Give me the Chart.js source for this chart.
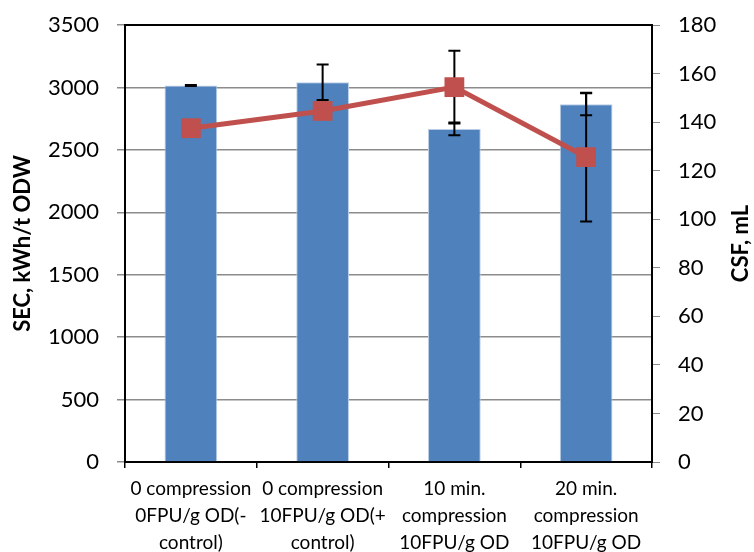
<!DOCTYPE html>
<html>
<head>
<meta charset="utf-8">
<script src="https://cdn.jsdelivr.net/npm/chart.js@4.4.1/dist/chart.umd.min.js"></script>
<style>
  body { margin: 0; background: #fff; }
  #wrap { width: 754px; height: 552px; }
</style>
</head>
<body>
<div id="wrap"><canvas id="mychart" width="754" height="552"></canvas></div>
<script>
// categories (multi-line x labels)
const categories = [
    ['0 compression', '0FPU/g OD(-', 'control)'],
    ['0 compression', '10FPU/g OD(+', 'control)'],
    ['10 min.', 'compression', '10FPU/g OD'],
    ['20 min.', 'compression', '10FPU/g OD']
];
// SEC bars (left axis) and their error
const secValues = [3015, 3042, 2668, 2866];
const secErrors = [4, 142, 52, 88];
// CSF line (right axis) and its error
const csfValues = [137.5, 144.6, 154.4, 125.6];
const csfErrors = [2, 2, 15, 26.5];

const secTicks = [0, 500, 1000, 1500, 2000, 2500, 3000, 3500];
const csfTicks = [0, 20, 40, 60, 80, 100, 120, 140, 160, 180];

const tickFont = { family: 'Lato', size: 22 };
const titleFont = { family: 'Lato', size: 22, weight: 'bold' };

// whiskers for both series, drawn right after the bars so the line sits on top
const errorBars = {
    id: 'errorBars',
    afterDatasetDraw(chart, args) {
        if (args.index !== 0) return;
        const ctx = chart.ctx;
        const sets = [
            { meta: chart.getDatasetMeta(0), scale: chart.scales.y, vals: secValues, errs: secErrors },
            { meta: chart.getDatasetMeta(1), scale: chart.scales.y1, vals: csfValues, errs: csfErrors }
        ];
        ctx.save();
        ctx.strokeStyle = '#000';
        ctx.lineWidth = 2;
        sets.forEach(s => {
            s.meta.data.forEach((el, i) => {
                const x = el.x;
                const yTop = s.scale.getPixelForValue(s.vals[i] + s.errs[i]);
                const yBot = s.scale.getPixelForValue(s.vals[i] - s.errs[i]);
                ctx.beginPath();
                ctx.moveTo(x, yTop); ctx.lineTo(x, yBot);
                ctx.moveTo(x - 6, yTop); ctx.lineTo(x + 6, yTop);
                ctx.moveTo(x - 6, yBot); ctx.lineTo(x + 6, yBot);
                ctx.stroke();
            });
        });
        ctx.restore();
    }
};

// plot area frame + right axis title (reads bottom to top like the left one)
const frame = {
    id: 'frame',
    beforeDatasetsDraw(chart) {
        const a = chart.chartArea, ctx = chart.ctx;
        ctx.save();
        ctx.strokeStyle = '#000';
        ctx.lineWidth = 2;
        ctx.strokeRect(a.left, a.top, a.right - a.left, a.bottom - a.top);
        ctx.restore();
    },
    afterDraw(chart) {
        const a = chart.chartArea, ctx = chart.ctx;
        ctx.save();
        ctx.translate(741, (a.top + a.bottom) / 2);
        ctx.rotate(-Math.PI / 2);
        ctx.font = 'bold 22px Lato';
        ctx.fillStyle = '#000';
        ctx.textAlign = 'center';
        ctx.textBaseline = 'middle';
        ctx.fillText('CSF, mL', 0, 0);
        ctx.restore();
    }
};

// fixed space above the plot, whatever the tick padding asks for
function fitY(width) {
    return scale => {
        scale.width = width;
        scale.paddingTop = 25;
        scale.paddingBottom = 0;
    };
}

const canvas = document.getElementById('mychart');

const grafico = new Chart(canvas, {
    data: {
        labels: categories,
        datasets: [
            {
                type: 'bar',
                label: 'SEC',
                data: secValues,
                yAxisID: 'y',
                backgroundColor: '#4F81BD',
                borderColor: '#B9CDE5',
                borderWidth: 1,
                barPercentage: 0.4,
                categoryPercentage: 1,
                order: 2
            },
            {
                type: 'line',
                label: 'CSF',
                data: csfValues,
                yAxisID: 'y1',
                borderColor: '#C0504D',
                backgroundColor: '#C0504D',
                borderWidth: 5,
                pointStyle: 'rect',
                pointRadius: 14,
                pointBorderWidth: 0,
                order: 1
            }
        ]
    },
    options: {
        responsive: false,
        animation: false,
        layout: { padding: 0 },
        plugins: {
            legend: { display: false },
            tooltip: { enabled: false }
        },
        scales: {
            x: {
                offset: true,
                grid: { display: true, drawOnChartArea: false, offset: true, tickLength: 6, color: '#000', lineWidth: 1.5 },
                border: { display: true, color: '#000', width: 2 },
                ticks: { color: '#000', font: { family: 'Lato', size: 19, lineHeight: 1.42 }, maxRotation: 0, padding: 7 },
                afterFit(scale) { scale.height = 90; }
            },
            y: {
                position: 'left',
                min: 0,
                max: 3500,
                afterBuildTicks(scale) { scale.ticks = secTicks.map(v => ({ value: v })); },
                grid: { color: '#8C8C8C', lineWidth: 1.5, tickLength: 8, tickColor: '#8C8C8C' },
                border: { display: true, color: '#000', width: 2 },
                ticks: { color: '#000', font: tickFont, padding: 18, callback: v => String(v) },
                title: { display: true, text: 'SEC, kWh/t ODW', color: '#000', font: titleFont, padding: { top: 10, bottom: 0 } },
                afterFit: fitY(125)
            },
            y1: {
                position: 'right',
                min: 0,
                max: 180,
                afterBuildTicks(scale) { scale.ticks = csfTicks.map(v => ({ value: v })); },
                grid: { drawOnChartArea: false, tickLength: 8, color: '#8C8C8C', tickColor: '#8C8C8C' },
                border: { display: true, color: '#000', width: 2 },
                ticks: { color: '#000', font: tickFont, padding: 18, callback: v => String(v) },
                afterFit: fitY(102)
            }
        }
    },
    plugins: [errorBars, frame]
});
</script>
</body>
</html>
